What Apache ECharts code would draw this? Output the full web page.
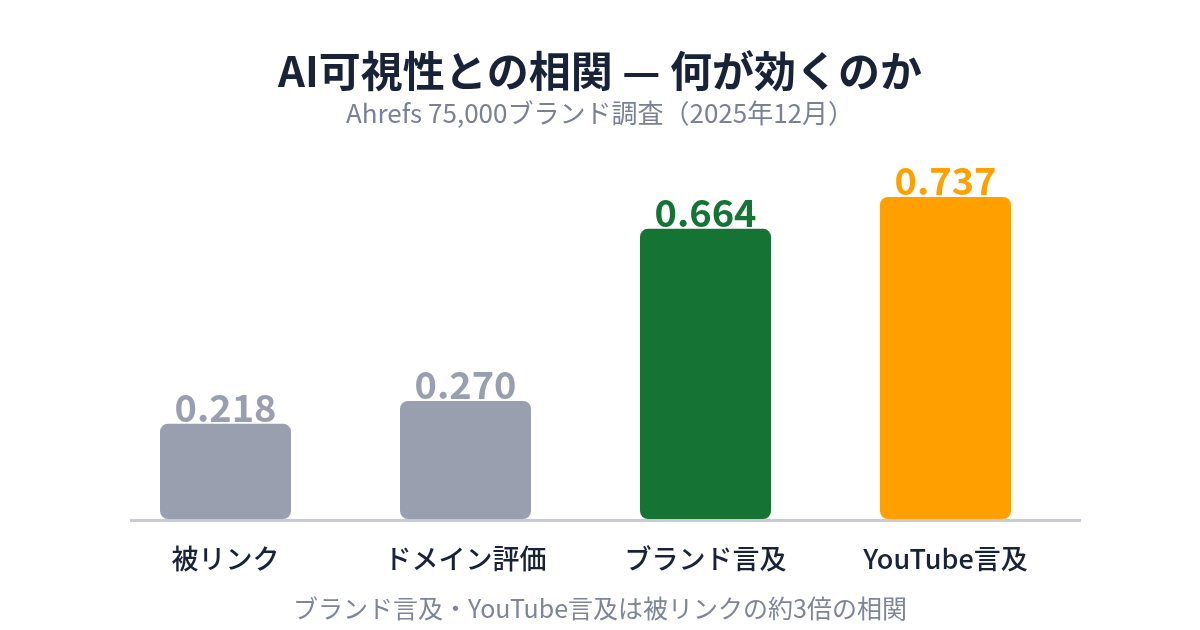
<!DOCTYPE html>
<html><head><meta charset="utf-8">
<script src="https://cdn.jsdelivr.net/npm/echarts@6/dist/echarts.min.js"></script>
<style>html,body{margin:0;padding:0;background:#fff}#c{width:1200px;height:630px}</style>
</head><body><div id="c"></div>
<script>
const categories = ['被リンク', 'ドメイン評価', 'ブランド言及', 'YouTube言及'];
const values = [0.218, 0.270, 0.664, 0.737];
const barColors = ['#9a9fb0', '#9a9fb0', '#157334', '#ff9f00'];
const titleText = 'AI可視性との相関 — 何が効くのか';
const subtitleText = 'Ahrefs 75,000ブランド調査（2025年12月）';
const footerText = 'ブランド言及・YouTube言及は被リンクの約3倍の相関';

const FONT = '"Noto Sans CJK JP", "Noto Sans", sans-serif';
const chart = echarts.init(document.getElementById('c'));
chart.setOption({
  backgroundColor: '#ffffff',
  animation: false,
  title: [
    { text: titleText, left: 'center', top: 45,
      textStyle: { fontFamily: FONT, fontSize: 42, fontWeight: 'bold', color: '#1a2238' } },
    { text: subtitleText, left: 'center', top: 95.5,
      textStyle: { fontFamily: FONT, fontSize: 26, fontWeight: 'normal', color: '#7a8194' } },
    { text: footerText, left: 'center', top: 590.5,
      textStyle: { fontFamily: FONT, fontSize: 25, fontWeight: 'normal', color: '#7d8597' } }
  ],
  grid: { left: 105.5, width: 960, top: 82, bottom: 111, containLabel: false },
  xAxis: {
    type: 'category', data: categories,
    axisLine: { show: false }, axisTick: { show: false },
    axisLabel: { margin: 26, fontFamily: FONT, fontSize: 27, fontWeight: 500, color: '#1a2238' }
  },
  yAxis: { type: 'value', min: 0, max: 1, show: false, splitLine: { show: false } },
  graphic: [{
    type: 'line', shape: { x1: 130, y1: 520.5, x2: 1081, y2: 520.5 },
    style: { stroke: '#c8cad6', lineWidth: 3 }, z: 10
  }],
  series: [{
    type: 'bar', barWidth: 131,
    data: values.map((v, i) => ({
      value: v,
      itemStyle: { color: barColors[i], borderRadius: 8 },
      label: { color: barColors[i] }
    })),
    label: {
      show: true, position: 'top', distance: -3,
      fontFamily: FONT, fontSize: 38, fontWeight: 'bold',
      formatter: p => p.value.toFixed(3)
    }
  }]
});
</script></body></html>
